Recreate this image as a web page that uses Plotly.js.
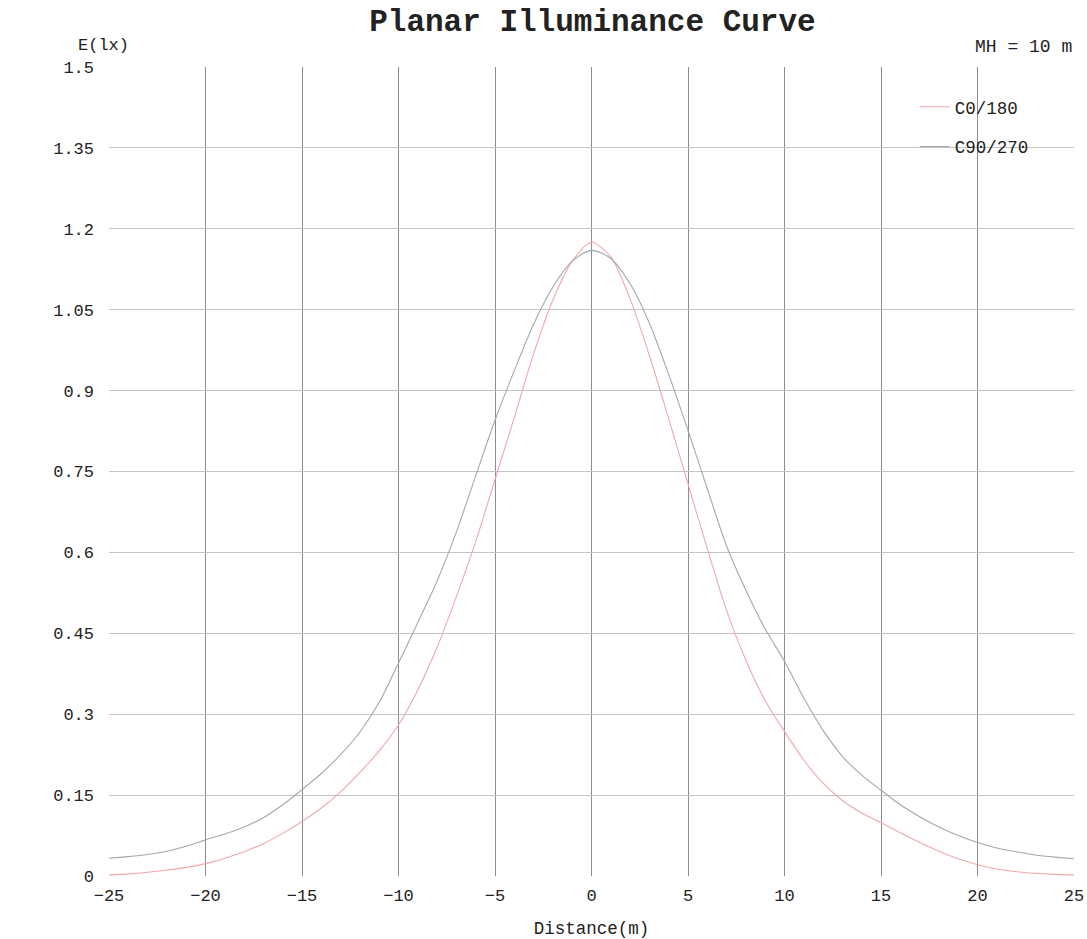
<!DOCTYPE html>
<html>
<head>
<meta charset="utf-8">
<script src="https://cdn.plot.ly/plotly-3.0.1.min.js"></script>
<style>html,body{margin:0;padding:0;background:#fff;}#chart{width:1087px;height:939px;}</style>
</head>
<body>
<div id="chart"></div>
<script>
// Distance (m)
const distance = [-25,-24,-23,-22,-21,-20,-19,-18,-17,-16,-15,-14,-13,-12,-11,-10,-9,-8,-7,-6,-5,-4,-3,-2,-1,0,1,2,3,4,5,6,7,8,9,10,11,12,13,14,15,16,17,18,19,20,21,22,23,24,25];
// C0/180 illuminance (lx)
const c0_180 = [0.002,0.004,0.007,0.011,0.016,0.023,0.033,0.045,0.060,0.079,0.101,0.126,0.156,0.192,0.232,0.280,0.345,0.424,0.518,0.620,0.735,0.850,0.968,1.068,1.140,1.175,1.148,1.070,0.965,0.848,0.727,0.607,0.492,0.400,0.325,0.268,0.215,0.172,0.140,0.117,0.099,0.080,0.062,0.046,0.032,0.021,0.013,0.008,0.005,0.003,0.002];
// C90/270 illuminance (lx)
const c90_270 = [0.033,0.036,0.040,0.046,0.055,0.067,0.078,0.091,0.108,0.132,0.160,0.190,0.225,0.267,0.322,0.395,0.470,0.547,0.638,0.742,0.845,0.937,1.023,1.092,1.140,1.160,1.145,1.098,1.025,0.930,0.826,0.718,0.612,0.530,0.458,0.398,0.330,0.270,0.222,0.187,0.159,0.132,0.110,0.091,0.075,0.062,0.052,0.045,0.039,0.035,0.032];
// Ticks
const xTicks = [-25,-20,-15,-10,-5,0,5,10,15,20,25];
const xGrid = [-20,-15,-10,-5,0,5,10,15,20];
const yTicks = [0,0.15,0.3,0.45,0.6,0.75,0.9,1.05,1.2,1.35,1.5];
const yTickText = ["0","0.15","0.3","0.45","0.6","0.75","0.9","1.05","1.2","1.35","1.5"];
const yGrid = [0,0.15,0.3,0.45,0.6,0.75,0.9,1.05,1.2,1.35];
const seriesNames = ["C0/180","C90/270"];

const FONT = "'Liberation Mono', 'Courier New', monospace";
const TXT = "#222";

const traces = [
  {x: distance, y: c0_180, name: seriesNames[0], mode: "lines", type: "scatter",
   xaxis: "x", yaxis: "y",
   line: {color: "#f3a7aa", width: 1.1, shape: "spline", smoothing: 0.8}, legendgroup: "a"},
  {x: distance, y: c90_270, name: seriesNames[1], mode: "lines", type: "scatter",
   xaxis: "x2", yaxis: "y2",
   line: {color: "#a2a8b1", width: 1.1, shape: "spline", smoothing: 0.8}, legendgroup: "b"}
];

const layout = {
  width: 1087, height: 939,
  paper_bgcolor: "#fff", plot_bgcolor: "#fff",
  margin: {l: 109, r: 13, t: 67, b: 63},
  font: {family: FONT, size: 17, color: TXT},
  title: {text: "<b>Planar Illuminance Curve</b>", font: {family: FONT, size: 31, color: TXT},
          x: 0.545, xanchor: "center", y: 0.979, yanchor: "middle"},
  showlegend: true,
  legend: {x: 0.835, y: 0.973, xanchor: "left", yanchor: "top", bgcolor: "rgba(0,0,0,0)",
           font: {family: FONT, size: 17.5, color: TXT}, tracegroupgap: 14, traceorder: "grouped"},
  xaxis: {range: [-25, 25], tickvals: xTicks, showgrid: false, zeroline: false, showline: false,
          ticks: "", tickfont: {family: FONT, size: 17, color: TXT}, ticklabelstandoff: 7,
          title: {text: "Distance(m)", font: {family: FONT, size: 17.5, color: TXT}, standoff: 18},
          fixedrange: true},
  xaxis2: {range: [-25, 25], overlaying: "x", anchor: "y2", side: "bottom", tickvals: xGrid, showticklabels: false,
           showgrid: true, gridcolor: "#8c8c8c", gridwidth: 1, zeroline: false, showline: false, ticks: "",
           fixedrange: true},
  yaxis: {range: [0, 1.5], tickvals: yTicks, ticktext: yTickText, showgrid: false, zeroline: false,
          showline: false, ticks: "", tickfont: {family: FONT, size: 17, color: TXT}, ticklabelstandoff: 14,
          fixedrange: true},
  yaxis2: {range: [0, 1.5], overlaying: "y", anchor: "x2", side: "left", tickvals: yGrid, showticklabels: false,
           showgrid: true, gridcolor: "#c4c4c4", gridwidth: 1, zeroline: false, showline: false, ticks: "",
           fixedrange: true},
  annotations: [
    {text: "E(lx)", xref: "paper", yref: "paper", x: 0.023, y: 1.027, xanchor: "right", yanchor: "middle",
     showarrow: false, font: {family: FONT, size: 17, color: TXT}},
    {text: "MH = 10 m", xref: "paper", yref: "paper", x: 1.0, y: 1.025, xanchor: "right", yanchor: "middle",
     showarrow: false, font: {family: FONT, size: 18, color: TXT}}
  ]
};

Plotly.newPlot("chart", traces, layout, {displayModeBar: false, staticPlot: true});
</script>
</body>
</html>
